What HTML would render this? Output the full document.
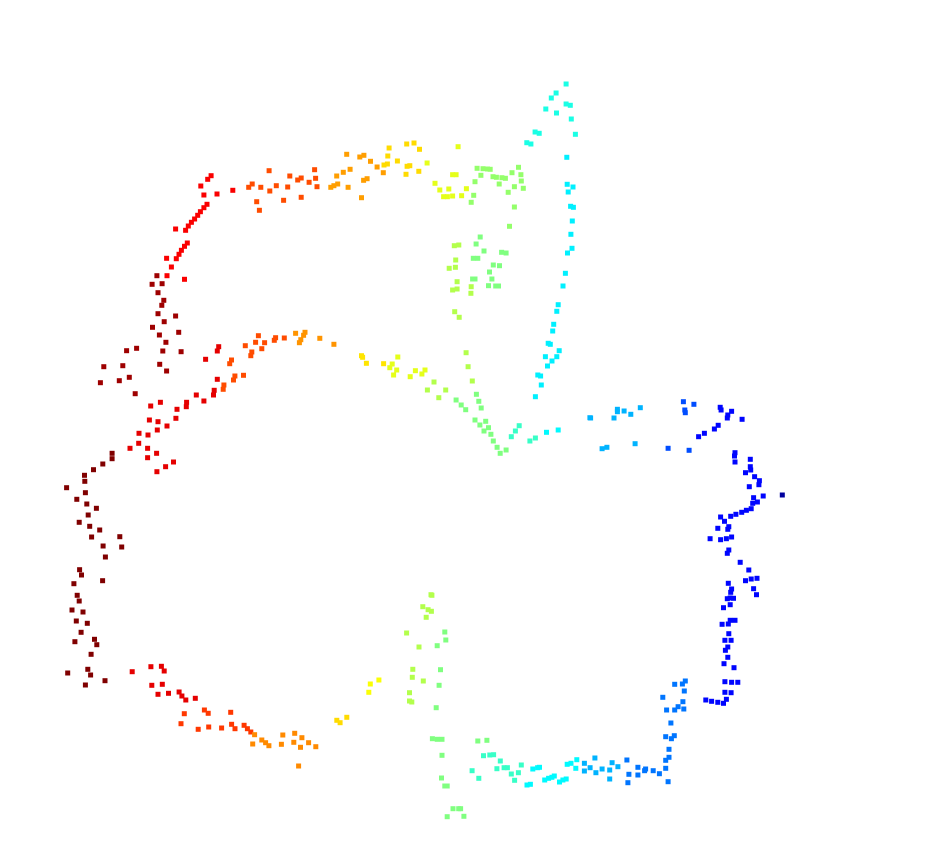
<!DOCTYPE html>
<html><head><meta charset="utf-8"><style>
html,body{margin:0;padding:0;background:#fff;}
svg{display:block;}
</style></head><body>
<svg id="chart" width="935" height="851" viewBox="0 0 935 851" xmlns="http://www.w3.org/2000/svg">
<g id="plot"></g>
</svg>
<script>
// Data: each series has a colour value (jet colormap, 0..1) and point coordinates.
// Coordinates are given in panel units; frame "A" = upper panel, frame "B" = lower panel.
const seriesColor = [0.88,0.97,0.8,0.72,0.66,0.6,0.52,0.55,0.5,0.4,0.36,
  0.9,0.8,0.73,0.65,0.6,0.55,0.5,0.43,0.37,0.3,1.0,
  1.0,0.9,0.82,0.74,0.66,0.62,0.55,0.5,0.43,0.37,0.3,0.24,0.13,0.03,0.2,0.3];
const seriesFrame = ["A","A","A","A","A","A","A","A","A","A","A",
  "A","A","A","A","A","A","A","A","A","A","A",
  "B","B","B","B","B","B","B","B","B","B","B","B","B","B","B","B"];
const seriesPoints = [
[[467,317],[457,328],[437,348],[446,375],[484,372],[530,361],[455,403],[446,413],[436,425],[428,436],[419,447],[410,457],[401,468],[393,481],[364,477],[398,519],[390,529],[381,541],[374,553],[366,566],[338,565],[352,591],[339,617],[390,628]],
[[310,617],[296,643],[325,641],[313,668],[330,691],[324,706],[313,731],[364,738],[331,755],[297,772],[373,787],[317,795],[336,817],[222,842],[251,835],[327,843],[380,845],[156,890],[211,887],[318,883],[338,903],[146,938],[201,932],[230,922],[247,971]],
[[576,352],[586,342],[611,352],[637,363],[656,347],[599,395],[607,421],[635,302],[677,391],[689,351],[695,318],[718,330],[728,324],[728,382],[751,337],[770,325],[767,299],[774,350]],
[[814,352],[823,347],[834,342],[831,318],[850,307],[864,352],[870,298],[860,253],[898,261],[910,256],[903,383],[909,331],[919,326],[929,274],[948,291],[966,308]],
[[968,285],[978,282],[979,258],[983,234],[1007,273],[1034,222],[1055,219],[1071,238],[1032,313],[1035,289],[1043,287],[1069,304]],
[[1093,279],[1116,340],[1130,360],[1141,380],[1152,380],[1156,357],[1167,314],[1177,314],[1167,378],[1183,230],[1193,377],[1207,356]],
[[1228,376],[1221,397],[1232,335],[1238,295],[1249,316],[1255,296],[1268,297],[1276,298],[1284,320],[1294,322],[1302,342],[1310,323],[1320,325],[1339,308],[1346,350],[1358,292],[1365,314],[1366,333],[1372,355],[1328,367],[1346,411],[1332,469]],
[[1172,527],[1185,525],[1176,570],[1157,595],[1175,592],[1180,635],[1167,660],[1180,657],[1173,725],[1186,742],[1221,650],[1220,670]],
[[1247,501],[1235,522],[1258,543],[1309,547],[1322,549],[1227,565],[1240,565],[1285,585],[1303,587],[1274,606],[1281,627],[1225,627],[1232,627],[1271,647],[1292,648],[1300,648]],
[[1496,42],[1467,69],[1453,84],[1437,117],[1468,129],[1496,102],[1508,106],[1511,147],[1523,193],[1406,186],[1418,190],[1382,218],[1394,222]],
[[1498,262],[1499,343],[1516,351],[1502,366],[1509,409],[1517,412],[1514,453],[1510,493],[1513,535],[1500,549],[1494,610],[1487,648],[1473,704],[1469,724],[1460,763],[1457,783],[1444,820],[1450,823],[1476,842],[1436,860],[1469,860],[1455,873],[1442,888],[1414,915],[1422,918],[1424,945],[1407,980]],
[[489,830],[485,843],[451,868],[485,928],[424,975],[446,993],[396,997],[395,1010],[368,1018],[365,1045],[339,1068],[320,997],[292,1008],[288,1050],[313,1055],[311,1080],[258,1090],[257,1120],[284,1095],[283,1135],[232,1135],[309,1150],[283,1163],[335,1190],[358,1176],[310,1205],[474,975],[476,961]],
[[604,797],[566,827],[596,817],[622,818],[614,836],[585,846],[582,857],[526,870],[521,881],[536,918],[532,930],[561,916],[504,945],[502,958],[654,803],[650,811],[679,804]],
[[712,790],[739,787],[735,796],[727,809],[723,818],[782,805],[823,823]],
[[903,857],[906,862],[917,880],[967,881]],
[[992,882],[985,893],[1008,861],[1005,900],[996,915],[1044,920],[1059,902],[1087,900],[1078,912]],
[[1113,936],[1094,960],[1147,960],[1127,983],[1206,848],[1212,890],[1224,933]],
[[1177,990],[1192,1005],[1205,1019],[1236,973],[1243,994],[1250,1014],[1232,1050],[1246,1065],[1263,1054],[1271,1073],[1258,1083],[1278,1093],[1285,1113],[1296,1132],[1305,1150],[1322,1140]],
[[1337,1100],[1349,1083],[1360,1067],[1391,1113],[1407,1104]],
[[1439,1087],[1473,1080]],
[[1565,1043]],
[[180,1150],[180,1166],[153,1182],[126,1199],[100,1216],[101,1234],[48,1253]],
[[74,308],[56,328],[77,342],[97,355],[80,375],[61,397],[83,409],[104,420],[87,441],[146,440],[150,471],[111,468],[116,501],[62,539],[66,555],[50,581],[110,572],[57,616],[61,633],[46,660],[69,666],[55,693],[78,700],[65,727],[93,748],[98,764],[52,755],[86,793],[37,849],[79,838],[85,855],[74,885],[115,872]],
[[172,845],[211,830],[233,829],[239,843],[213,886],[235,883],[226,913],[248,910],[270,906],[276,918],[284,930],[304,925]],
[[281,971],[323,960],[331,970],[378,967],[274,1001],[310,1018],[332,1011],[359,1014],[380,1003],[387,1016],[406,1006],[413,1016],[420,1026]],
[[428,1034],[443,1050],[451,1058],[458,1067],[424,1062],[487,1035],[484,1063],[512,1030],[510,1057],[527,1043],[524,1072],[541,1058],[556,1070],[520,1128]],
[[600,991],[607,998],[621,982]],
[[670,882],[688,870],[667,907]],
[[797,614],[799,616],[780,650],[791,659],[798,664],[787,682],[746,729],[772,771],[759,838],[758,862],[781,873],[752,908],[752,933],[757,936]],
[[826,726],[828,750],[810,767],[817,839],[814,886],[808,953],[800,1046],[810,1048],[820,1048],[820,1096],[819,1164],[826,1188],[831,1188],[843,1256],[855,1256],[859,1256],[831,1280],[866,1279],[895,1053],[914,1051]],
[[907,1097],[920,1095],[928,1094],[942,1113],[883,1142],[897,1165],[935,1136],[950,1133],[957,1133],[965,1152],[980,1148],[972,1171],[986,1125]],
[[998,1185],[1005,1183],[1010,1137],[1020,1133],[1024,1132],[1035,1170],[1043,1165],[1050,1162],[1055,1158],[1066,1176],[1073,1170],[1080,1167],[1082,1123],[1090,1120],[1102,1109],[1100,1135]],
[[1118,1143],[1118,1120],[1130,1133],[1140,1104],[1142,1148],[1155,1137],[1171,1167],[1171,1140],[1176,1118],[1188,1130]],
[[1207,1110],[1211,1153],[1209,1178],[1230,1155],[1230,1132],[1246,1137],[1244,1142],[1262,1142],[1275,1151],[1288,1111],[1288,1135],[1293,1175],[1295,1102],[1295,1078],[1288,1040],[1300,1046],[1306,1037],[1299,999],[1290,960],[1314,950],[1307,960],[1326,957],[1324,935],[1282,922],[1327,903],[1307,883],[1323,882],[1329,873]],
[[1372,930],[1384,934],[1397,937],[1409,940],[1415,928],[1412,907],[1425,908],[1412,875],[1426,877],[1439,877],[1431,833],[1410,821],[1418,802],[1413,781],[1418,771],[1412,751],[1425,751],[1420,731],[1406,703],[1419,702],[1423,691],[1433,691],[1409,653],[1423,644],[1423,624],[1417,626],[1430,625],[1424,607],[1426,597],[1419,580],[1478,614],[1472,596],[1479,565],[1467,567],[1455,572],[1462,540],[1444,517],[1417,490],[1420,480],[1403,449],[1415,446],[1426,441],[1381,446],[1420,410],[1418,418],[1397,415],[1411,394],[1403,381],[1424,379],[1435,373],[1447,367],[1457,361],[1467,356],[1470,340],[1480,336],[1492,318],[1472,323],[1463,290],[1483,284],[1484,272],[1474,260],[1455,248],[1466,240],[1465,230],[1465,208],[1433,216],[1432,198],[1433,188],[1357,140],[1369,130],[1390,117],[1398,106],[1417,84],[1418,75],[1426,64],[1402,52],[1404,60],[1448,88]],
[[1532,315]],
[[1325,35],[1328,60],[1329,68],[1347,43],[1337,181],[1293,175]],
[[1235,53],[1215,73],[1187,58],[1201,63],[1187,65],[1180,84],[1131,84],[1224,161],[1165,172],[1155,176]]
];

// Axis functions per panel frame
function xAxis(v, f){ return f === "A" ? 50 + v * 0.345 : 50 + v * 0.478; }
function yAxis(v, f){ return f === "A" ? 70 + v / 3 : 390 + v / 3; }
function jet(c){
  const cl = t => Math.max(0, Math.min(1, t));
  const r = cl(1.5 - Math.abs(4*c - 3)), g = cl(1.5 - Math.abs(4*c - 2)), b = cl(1.5 - Math.abs(4*c - 1));
  return `rgb(${Math.round(r*255)},${Math.round(g*255)},${Math.round(b*255)})`;
}
const NS = "http://www.w3.org/2000/svg";
const plot = document.getElementById("plot");
seriesPoints.forEach((pts, si) => {
  const g = document.createElementNS(NS, "g");
  
  
  const col = jet(seriesColor[si]);
  pts.forEach(p => {
    const r = document.createElementNS(NS, "rect");
    
    
    r.setAttribute("x", (xAxis(p[0], seriesFrame[si]) - 2.5).toFixed(1));
    r.setAttribute("y", (yAxis(p[1], seriesFrame[si]) - 2.5).toFixed(1));
    r.setAttribute("width", 5);
    r.setAttribute("height", 5);
    r.setAttribute("fill", col);
    g.appendChild(r);
  });
  plot.appendChild(g);
});
</script>
</body></html>
